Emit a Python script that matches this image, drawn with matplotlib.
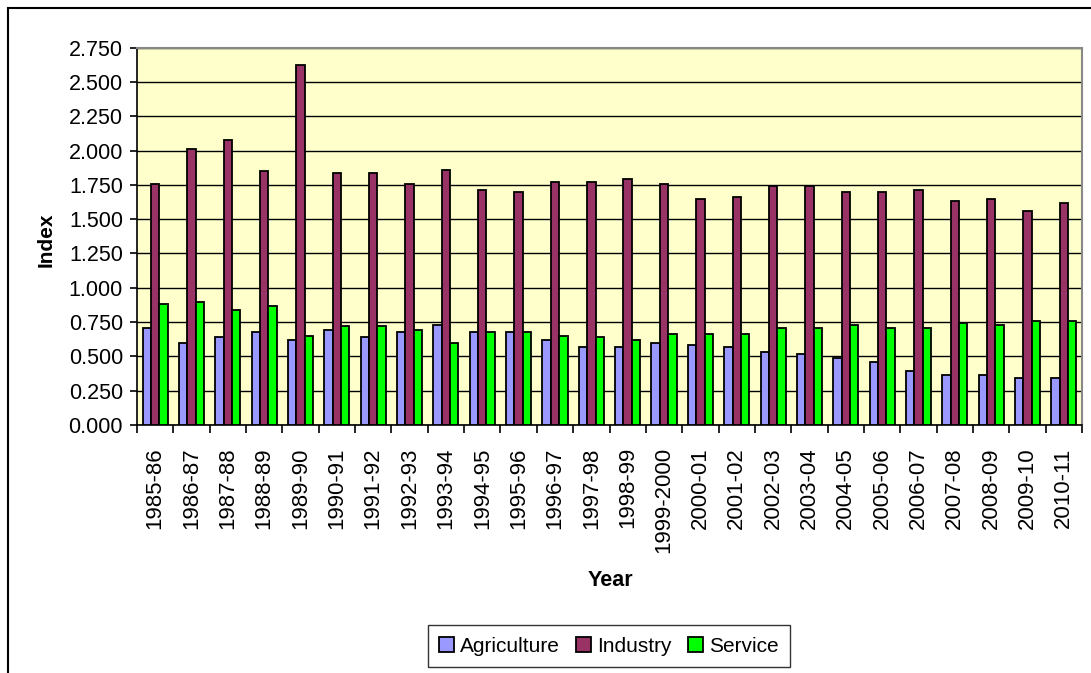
import matplotlib
matplotlib.use("Agg")
import matplotlib.pyplot as plt
import numpy as np
from matplotlib.patches import Rectangle

years = ["1985-86", "1986-87", "1987-88", "1988-89", "1989-90", "1990-91", "1991-92",
         "1992-93", "1993-94", "1994-95", "1995-96", "1996-97", "1997-98", "1998-99",
         "1999-2000", "2000-01", "2001-02", "2002-03", "2003-04", "2004-05", "2005-06",
         "2006-07", "2007-08", "2008-09", "2009-10", "2010-11"]
agriculture = [0.708, 0.599, 0.638, 0.679, 0.623, 0.691, 0.638, 0.679, 0.732, 0.679, 0.679,
               0.623, 0.570, 0.570, 0.599, 0.584, 0.570, 0.529, 0.516, 0.487, 0.461,
               0.393, 0.366, 0.366, 0.339, 0.339]
industry = [1.753, 2.013, 2.080, 1.848, 2.624, 1.836, 1.836, 1.753, 1.862, 1.712, 1.697,
            1.768, 1.768, 1.794, 1.753, 1.644, 1.659, 1.739, 1.739, 1.697, 1.697,
            1.712, 1.632, 1.644, 1.562, 1.617]
service = [0.883, 0.897, 0.841, 0.868, 0.650, 0.720, 0.720, 0.691, 0.599, 0.679, 0.679,
           0.650, 0.638, 0.623, 0.664, 0.664, 0.664, 0.706, 0.706, 0.732, 0.706,
           0.706, 0.747, 0.732, 0.759, 0.759]
yticks = [0.0, 0.25, 0.5, 0.75, 1.0, 1.25, 1.5, 1.75, 2.0, 2.25, 2.5, 2.75]

plt.rcParams['font.family'] = ['Liberation Sans', 'DejaVu Sans']

W, H = 1091, 673
fig = plt.figure(figsize=(W / 100, H / 100), dpi=100)
fig.patches.append(Rectangle((8 / W, -0.1), 1.2, 1.1 - 8 / H, transform=fig.transFigure,
                             fill=False, edgecolor='black', linewidth=1.5))

ax = fig.add_axes([137 / W, 1 - 425 / H, (1082 - 137) / W, (425 - 47.7) / H])
ax.set_facecolor('#FFFFCC')

x = np.arange(len(years))
w = 0.23
kw = dict(edgecolor='black', linewidth=1.3, zorder=3)
b1 = ax.bar(x - w, agriculture, w, color='#9999FF', label='Agriculture', **kw)
b2 = ax.bar(x, industry, w, color='#993366', label='Industry', **kw)
b3 = ax.bar(x + w, service, w, color='#00FF00', label='Service', **kw)

ax.set_xlim(-0.5, len(years) - 0.5)
ax.set_ylim(0, 2.75)
ax.set_yticks(yticks)
ax.set_yticklabels([f"{v:.3f}" for v in yticks], fontsize=15.5)
ax.yaxis.grid(True, color='black', linewidth=1.0, zorder=0)
ax.set_axisbelow(True)

ax.set_xticks(x)
ax.set_xticklabels(years, rotation=90, fontsize=16)
ax.tick_params(axis='x', length=0, pad=16)
ax.set_xticks(np.arange(len(years) + 1) - 0.5, minor=True)
ax.tick_params(axis='x', which='minor', length=6, direction='out', width=1.2)
ax.tick_params(axis='y', length=5, direction='out', width=1.2, pad=5)

for s in ['left', 'bottom']:
    ax.spines[s].set_color('black')
    ax.spines[s].set_linewidth(1.2)
for s in ['top', 'right']:
    ax.spines[s].set_color('#888888')
    ax.spines[s].set_linewidth(1.5)

fig.text(46 / W, 1 - 240 / H, 'Index', rotation=90, fontsize=15, fontweight='bold',
         ha='center', va='center')
fig.text(610 / W, 1 - 581 / H, 'Year', fontsize=15.5, fontweight='bold',
         ha='center', va='center')

leg = fig.legend(handles=[b1, b2, b3], loc='center', bbox_to_anchor=(609 / W, 1 - 646 / H),
                 ncol=3, fontsize=15, frameon=True, fancybox=False, edgecolor='black',
                 handlelength=0.7, handleheight=0.7, handletextpad=0.3, columnspacing=0.8,
                 borderpad=0.55)
leg.get_frame().set_linewidth(1.0)

fig.savefig('out.png', dpi=100)
